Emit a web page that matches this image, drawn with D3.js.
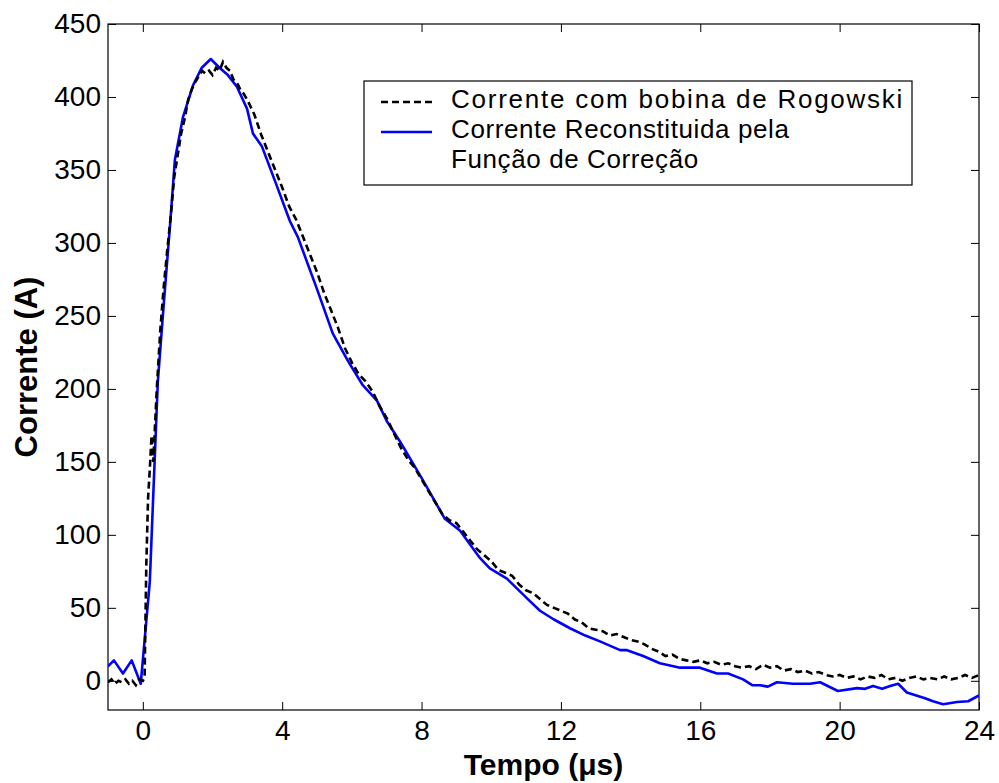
<!DOCTYPE html>
<html><head><meta charset="utf-8">
<script src="https://cdn.jsdelivr.net/npm/d3@7"></script>
<style>body{margin:0;background:#fff}svg{display:block}</style>
</head><body>
<svg id="c" width="999" height="783"></svg>
<script>
// Rogowski coil current (dashed black)
const rogT = [-1,-0.9,-0.8,-0.7,-0.6,-0.5,-0.4,-0.3,-0.2,-0.1,0,0.05,0.1,0.15,0.2,0.25,0.3,0.4,0.5,0.6,0.7,0.8,0.9,1.0,1.1,1.2,1.3,1.4,1.5,1.6,1.7,1.8,1.9,2.0,2.1,2.2,2.3,2.4,2.5,2.6,2.7,2.8,2.9,3.0,3.2,3.4,3.6,3.8,4.0,4.2,4.4,4.6,4.8,5.0,5.2,5.4,5.6,5.8,6.0,6.2,6.4,6.6,6.8,7.0,7.2,7.4,7.6,7.8,8.0,8.2,8.4,8.6,8.8,9.0,9.2,9.4,9.6,9.8,10.0,10.2,10.4,10.6,10.8,11.0,11.2,11.4,11.6,11.8,12.0,12.2,12.4,12.6,12.8,13.0,13.2,13.4,13.6,13.8,14.0,14.2,14.4,14.6,14.8,15.0,15.2,15.4,15.6,15.8,16.0,16.2,16.4,16.6,16.8,17.0,17.2,17.4,17.6,17.8,18.0,18.2,18.4,18.6,18.8,19.0,19.2,19.4,19.6,19.8,20.0,20.2,20.4,20.6,20.8,21.0,21.2,21.4,21.6,21.8,22.0,22.2,22.4,22.6,22.8,23.0,23.2,23.4,23.6,23.8,24.0];
const rogI = [-1,1,-2,0,-1,1,-2,0,-3,1,0,2,80,125,145,168,150,200,240,270,295,318,345,360,375,385,398,405,410,414,418,416,418,415,420,418,424,420,418,412,410,405,402,398,388,374,362,350,338,325,316,304,292,280,266,254,242,228,218,210,205,198,188,180,170,160,152,146,138,130,122,114,110,108,102,96,90,86,82,76,74,72,66,62,60,56,52,50,48,46,42,40,36,35,34,31,32,30,28,27,25,22,20,17,18,15,14,13,14,12,13,11,12,10,9,10,8,11,9,10,7,8,6,7,5,6,4,3,4,2,3,1,3,2,4,1,2,0,2,3,1,2,1,3,1,2,4,2,4];
// Reconstructed current (solid blue)
const recT = [-1,-0.83,-0.57,-0.32,-0.06,0.2,0.43,0.6,0.78,0.92,1.15,1.44,1.69,1.95,2.2,2.44,2.7,2.99,3.16,3.42,3.8,4.22,4.45,5.02,5.45,5.89,6.3,6.72,7.0,7.38,8.0,8.67,9.1,9.68,9.96,10.45,11.05,11.4,11.8,12.26,12.7,13.12,13.7,13.9,14.36,14.84,15.42,15.99,16.48,16.8,17.23,17.49,17.71,17.94,18.2,18.66,19.15,19.44,19.95,20.5,20.73,20.96,21.22,21.45,21.68,21.93,22.45,22.68,22.97,23.37,23.69,24];
const recI = [10,14,5,14,-2,68,205,258,312,357,386,408,420,426,420,415,407,392,375,366,342,315,304,267,238,219,203,192,178,164,139,111,103,84,77,70,56,48,42,36,31,27,21,21,17,12,9,9,5,5,1,-3,-3,-4,-1,-2,-2,-1,-7,-5,-5.5,-3.5,-5.5,-3.5,-2,-8,-12,-14,-16,-14.5,-14,-10];
const xTicks = [0,4,8,12,16,20,24];
const yTicks = [0,50,100,150,200,250,300,350,400,450];
const legendLabels = ["Corrente com bobina de Rogowski", "Corrente Reconstituida pela", "Função de Correção"];

const svg = d3.select("#c");
const L=108,R=979,T=24,B=710;
const x = d3.scaleLinear().domain([-1,24]).range([L,R]);
const y = d3.scaleLinear().domain([-20,450]).range([B,T]);
const font = "'Liberation Sans', Arial, Helvetica, sans-serif";

const clipId="clp";
svg.append("clipPath").attr("id",clipId).append("rect").attr("x",L).attr("y",T).attr("width",R-L).attr("height",B-T);

const g = svg.append("g");
const ax = g.append("g").attr("transform",`translate(0,${B})`).call(d3.axisBottom(x).tickValues(xTicks).tickSize(-8).tickPadding(10));
const ay = g.append("g").attr("transform",`translate(${L},0)`).call(d3.axisLeft(y).tickValues(yTicks).tickSize(-8).tickPadding(7));
const axT = g.append("g").attr("transform",`translate(0,${T})`).call(d3.axisTop(x).tickValues(xTicks).tickSize(-8).tickFormat(""));
const ayR = g.append("g").attr("transform",`translate(${R},0)`).call(d3.axisRight(y).tickValues(yTicks).tickSize(-8).tickFormat(""));
[ax,ay,axT,ayR].forEach(a=>{a.select(".domain").remove();a.selectAll("line").attr("stroke","#000").attr("stroke-width",1);
  a.selectAll("text").attr("font-family",font).attr("font-size",28).attr("fill","#000");});
g.append("rect").attr("x",L).attr("y",T).attr("width",R-L).attr("height",B-T).attr("fill","none").attr("stroke","#000").attr("stroke-width",1.2);

const line = d3.line().x(d=>x(d[0])).y(d=>y(d[1]));
const rog = rogT.map((t,i)=>[t,rogI[i]]);
const rec = recT.map((t,i)=>[t,recI[i]]);
const plot = svg.append("g").attr("clip-path",`url(#${clipId})`);
plot.append("path").attr("d",line(rec)).attr("fill","none").attr("stroke","#0000ff").attr("stroke-width",2.6).attr("stroke-linejoin","round");
plot.append("path").attr("d",line(rog)).attr("fill","none").attr("stroke","#000").attr("stroke-width",2.6).attr("stroke-dasharray","7,4");

svg.append("text").attr("x",(L+R)/2).attr("y",775).attr("text-anchor","middle").attr("font-family",font).attr("font-weight","bold").attr("font-size",30).text("Tempo (μs)");
svg.append("text").attr("transform",`translate(37,${(T+B)/2}) rotate(-90)`).attr("text-anchor","middle").attr("font-family",font).attr("font-weight","bold").attr("font-size",31).text("Corrente (A)");

const lg = svg.append("g");
lg.append("rect").attr("x",364).attr("y",81).attr("width",548).attr("height",104).attr("fill","#fff").attr("stroke","#000").attr("stroke-width",1.2);
lg.append("line").attr("x1",381).attr("x2",432).attr("y1",102).attr("y2",102).attr("stroke","#000").attr("stroke-width",2.6).attr("stroke-dasharray","7,4");
lg.append("line").attr("x1",381).attr("x2",432).attr("y1",132).attr("y2",132).attr("stroke","#0000ff").attr("stroke-width",2.6);
const ly=[108,138,168];
legendLabels.forEach((s,i)=>{
  const t = lg.append("text").attr("x",451).attr("y",ly[i]).attr("font-family",font).attr("font-size",26).attr("letter-spacing",0.6).text(s);
  if(i===0) t.attr("textLength",452).attr("lengthAdjust","spacing");
});
</script>
</body></html>
